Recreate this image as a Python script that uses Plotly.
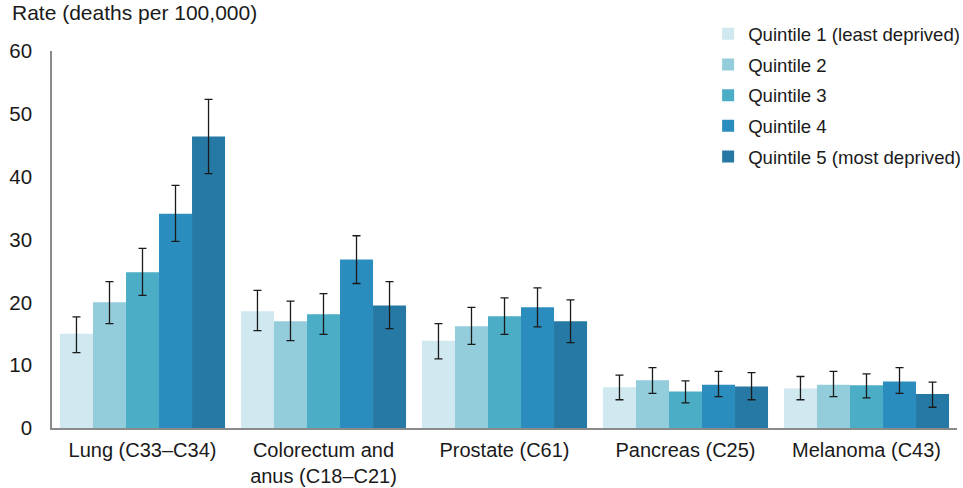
import plotly.graph_objects as go

# Cancer sites (x-axis categories)
sites = [
    "Lung (C33–C34)",
    "Colorectum and<br>anus (C18–C21)",
    "Prostate (C61)",
    "Pancreas (C25)",
    "Melanoma (C43)",
]

quintile_names = [
    "Quintile 1 (least deprived)",
    "Quintile 2",
    "Quintile 3",
    "Quintile 4",
    "Quintile 5 (most deprived)",
]

# Mortality rates (deaths per 100,000) with 95% confidence limits
q1_rate = [15.0, 18.6, 13.9, 6.5, 6.3]
q1_lower = [12.0, 15.5, 11.0, 4.5, 4.5]
q1_upper = [17.7, 21.9, 16.6, 8.4, 8.2]

q2_rate = [20.0, 17.0, 16.2, 7.6, 6.9]
q2_lower = [16.6, 13.9, 13.3, 5.5, 5.0]
q2_upper = [23.3, 20.2, 19.2, 9.6, 9.0]

q3_rate = [24.8, 18.1, 17.8, 5.8, 6.8]
q3_lower = [21.1, 14.9, 14.9, 4.0, 4.8]
q3_upper = [28.6, 21.4, 20.7, 7.5, 8.6]

q4_rate = [34.1, 26.8, 19.2, 6.9, 7.4]
q4_lower = [29.7, 23.0, 16.1, 5.0, 5.5]
q4_upper = [38.6, 30.6, 22.3, 9.0, 9.6]

q5_rate = [46.4, 19.5, 17.0, 6.6, 5.4]
q5_lower = [40.5, 15.8, 13.6, 4.5, 3.3]
q5_upper = [52.3, 23.3, 20.4, 8.8, 7.3]

y_ticks = [0, 10, 20, 30, 40, 50, 60]

colors = ["#D0E8EF", "#93CDDB", "#4BADC6", "#2B8DBE", "#2679A5"]

series = [
    (q1_rate, q1_lower, q1_upper),
    (q2_rate, q2_lower, q2_upper),
    (q3_rate, q3_lower, q3_upper),
    (q4_rate, q4_lower, q4_upper),
    (q5_rate, q5_lower, q5_upper),
]

FONT = "Arial, Liberation Sans, sans-serif"

fig = go.Figure()
for i, (name, (rate, lo, hi)) in enumerate(zip(quintile_names, series)):
    fig.add_trace(go.Bar(
        name=name,
        x=sites,
        y=rate,
        legendgroup=f"q{i + 1}",
        marker=dict(color=colors[i], line=dict(width=0)),
        error_y=dict(
            type="data",
            symmetric=False,
            array=[h - r for h, r in zip(hi, rate)],
            arrayminus=[r - l for r, l in zip(rate, lo)],
            color="#1a1a1a",
            thickness=1.3,
            width=4,
        ),
    ))

fig.update_layout(
    width=963,
    height=488,
    margin=dict(l=52, r=6, t=51, b=60, autoexpand=False),
    paper_bgcolor="white",
    plot_bgcolor="white",
    barmode="group",
    bargap=0.088,
    bargroupgap=0,
    font=dict(family=FONT, size=21, color="#1a1a1a"),
    showlegend=True,
    legend=dict(
        x=0.725,
        y=1.095,
        xanchor="left",
        yanchor="top",
        font=dict(size=18.6, color="#1a1a1a"),
        tracegroupgap=3.5,
        bgcolor="rgba(0,0,0,0)",
    ),
    xaxis=dict(
        showline=True,
        linecolor="#8a8a8a",
        linewidth=1.5,
        showgrid=False,
        ticks="",
        tickfont=dict(size=20),
        ticklabelstandoff=3,
        automargin=False,
    ),
    yaxis=dict(
        range=[0, 60],
        tickvals=y_ticks,
        showline=True,
        linecolor="#8a8a8a",
        linewidth=1.5,
        showgrid=False,
        zeroline=False,
        ticks="",
        tickfont=dict(size=20.5),
        ticklabelstandoff=14,
        automargin=False,
    ),
    annotations=[
        dict(
            text="Rate (deaths per 100,000)",
            xref="paper", yref="paper",
            x=-0.046, y=1.065,
            xanchor="left", yanchor="bottom",
            showarrow=False,
            font=dict(size=21, color="#1a1a1a"),
        )
    ],
)

fig.write_html("out.html")
